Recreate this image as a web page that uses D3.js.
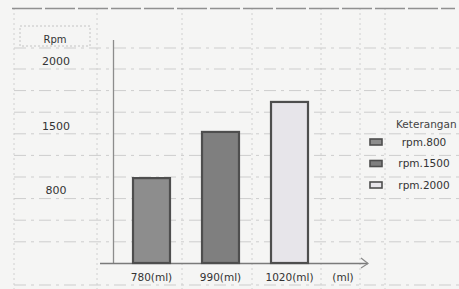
<!DOCTYPE html>
<html>
<head>
<meta charset="utf-8">
<script src="https://cdn.jsdelivr.net/npm/d3@7"></script>
<style>
  body { margin: 0; background: #f5f5f4; }
  svg { display: block; font-family: "DejaVu Sans", Verdana, sans-serif; }
</style>
</head>
<body>
<div id="chart"></div>
<script>
// Data
var categories = ["780(ml)", "990(ml)", "1020(ml)"];
var seriesNames = ["rpm.800", "rpm.1500", "rpm.2000"];
var barValues = [930, 1435, 1685];
var yTickValues = [2000, 1500, 800];

var w = 459, h = 289;
var fills = ["#8d8d8d", "#7f7f7f", "#e7e5ea"];

var svg = d3.select("#chart").append("svg")
    .attr("width", w)
    .attr("height", h);

svg.append("rect").attr("width", w).attr("height", h).attr("fill", "#f5f5f4");

// spreadsheet grid behind the chart
var rowLines = [48].concat(d3.range(69, 250, 21.6)).concat([285]);
var colLines = [14, 97, 182, 252, 321, 360, 385];

svg.selectAll(".row").data(rowLines).enter().append("line")
    .attr("x1", 14).attr("x2", w)
    .attr("y1", function(d) { return d; }).attr("y2", function(d) { return d; })
    .attr("stroke", "#cdcdcd")
    .attr("stroke-width", 1)
    .attr("stroke-dasharray", "12,5,3,5");

svg.selectAll(".col").data(colLines).enter().append("line")
    .attr("x1", function(d) { return d; }).attr("x2", function(d) { return d; })
    .attr("y1", 8).attr("y2", h)
    .attr("stroke", "#d0d0d0")
    .attr("stroke-width", 1)
    .attr("stroke-dasharray", "2,3");

svg.append("line")
    .attr("x1", 12).attr("x2", 455).attr("y1", 8.5).attr("y2", 8.5)
    .attr("stroke", "#909090").attr("stroke-width", 1.5)
    .attr("stroke-dasharray", "30,3");

// scales
var x = d3.scaleBand()
    .domain(categories)
    .range([117, 324])
    .paddingInner(0.464)
    .paddingOuter(0.232);

var y = d3.scaleLinear()
    .domain([0, 800, 1500, 2000])
    .range([263, 190, 126, 61]);

// axes
svg.append("line")
    .attr("x1", 113.5).attr("x2", 113.5).attr("y1", 40).attr("y2", y(0))
    .attr("stroke", "#8c8c8c").attr("stroke-width", 1.3);

svg.append("line")
    .attr("x1", 100).attr("x2", 368).attr("y1", y(0) + 0.5).attr("y2", y(0) + 0.5)
    .attr("stroke", "#7a7a7a").attr("stroke-width", 1.3);

svg.append("path")
    .attr("d", "M361,258 L368," + (y(0) + 0.5) + " L361,268")
    .attr("fill", "none").attr("stroke", "#8a8a8a").attr("stroke-width", 1.2);

// y title box
svg.append("rect")
    .attr("x", 20).attr("y", 26).attr("width", 70).attr("height", 20)
    .attr("fill", "none").attr("stroke", "#c4c4c4").attr("stroke-dasharray", "2,2");

svg.append("text")
    .attr("x", 55).attr("y", 43)
    .attr("text-anchor", "middle")
    .attr("font-size", 10)
    .attr("fill", "#333")
    .text("Rpm");

svg.selectAll(".ytick").data(yTickValues).enter().append("text")
    .attr("x", 56)
    .attr("y", function(d) { return y(d); })
    .attr("dy", "0.35em")
    .attr("text-anchor", "middle")
    .attr("font-size", 11)
    .attr("fill", "#333")
    .text(function(d) { return d; });

// bars
svg.selectAll(".bar").data(barValues).enter().append("rect")
    .attr("x", function(d, i) { return x(categories[i]); })
    .attr("y", function(d) { return y(d); })
    .attr("width", x.bandwidth())
    .attr("height", function(d) { return y(0) - y(d); })
    .attr("fill", function(d, i) { return fills[i]; })
    .attr("stroke", "#4e4e4e")
    .attr("stroke-width", 2.2);

// category labels
svg.selectAll(".xlab").data(categories).enter().append("text")
    .attr("x", function(d) { return x(d) + x.bandwidth() / 2; })
    .attr("y", 277)
    .attr("dy", "0.35em")
    .attr("text-anchor", "middle")
    .attr("font-size", 10.5)
    .attr("fill", "#333")
    .text(function(d) { return d; });

svg.append("text")
    .attr("x", 343).attr("y", 277).attr("dy", "0.35em")
    .attr("text-anchor", "middle")
    .attr("font-size", 10.5)
    .attr("fill", "#333")
    .text("(ml)");

// legend
svg.append("text")
    .attr("x", 396).attr("y", 128)
    .attr("font-size", 10.5)
    .attr("fill", "#444")
    .text("Keterangan");

var legend = svg.selectAll(".leg").data(seriesNames).enter().append("g")
    .attr("transform", function(d, i) { return "translate(0," + (142 + i * 21.5) + ")"; });

legend.append("rect")
    .attr("x", 370).attr("y", -3).attr("width", 12).attr("height", 6)
    .attr("fill", function(d, i) { return fills[i]; })
    .attr("stroke", "#4e4e4e").attr("stroke-width", 1.6);

legend.append("text")
    .attr("x", 424).attr("dy", "0.35em")
    .attr("text-anchor", "middle")
    .attr("font-size", 10.5)
    .attr("fill", "#333")
    .text(function(d) { return d; });
</script>
</body>
</html>
